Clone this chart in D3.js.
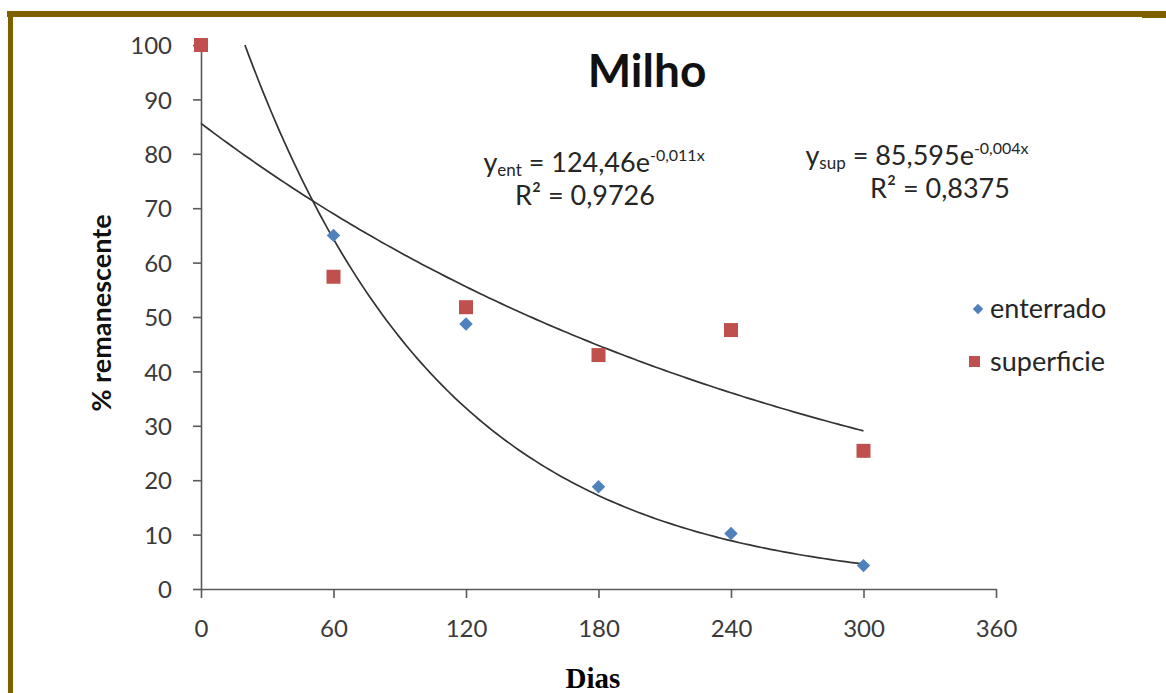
<!DOCTYPE html>
<html>
<head>
<meta charset="utf-8">
<script src="https://cdn.jsdelivr.net/npm/d3@7"></script>
<style>
  body { margin: 0; background: #fff; }
  svg { display: block; }
</style>
</head>
<body>
<div id="chart"></div>
<script>
// Data
const xTicks = [0, 60, 120, 180, 240, 300, 360];
const yTicks = [0, 10, 20, 30, 40, 50, 60, 70, 80, 90, 100];

const enterradoDias = [0, 60, 120, 180, 240, 300];
const enterradoVal = [100, 65, 48.7, 18.8, 10.2, 4.3];

const superficieDias = [0, 60, 120, 180, 240, 300];
const superficieVal = [100, 57.4, 51.8, 43, 47.6, 25.4];

// Trend line coefficients (exponential fits)
const entA = 124.46, entB = -0.011;
const supA = 85.595, supB = -0.0036;

const width = 1166;
const height = 693;
const font = "Lato, 'Open Sans', sans-serif";
const axisColor = "#595959";
const brown = "#7f6000";

const svg = d3.select("#chart").append("svg")
    .attr("width", width)
    .attr("height", height);

svg.append("rect").attr("width", width).attr("height", height).attr("fill", "#fff");

// brown frame (top and left)
svg.append("rect").attr("x", 7).attr("y", 11).attr("width", width - 7).attr("height", 6).attr("fill", brown);
svg.append("rect").attr("x", 1142).attr("y", 11).attr("width", 24).attr("height", 7).attr("fill", brown);
svg.append("rect").attr("x", 8).attr("y", 11).attr("width", 5).attr("height", height - 11).attr("fill", brown);

// scales
const x = d3.scaleLinear().domain([0, 360]).range([201, 996]);
const y = d3.scaleLinear().domain([0, 100]).range([589, 45]);

// y axis
const yAxis = svg.append("g")
    .attr("transform", `translate(${x(0)},0)`)
    .call(d3.axisLeft(y).tickValues(yTicks).tickSize(8).tickPadding(21).tickSizeOuter(0));

// x axis
const xAxis = svg.append("g")
    .attr("transform", `translate(0,${y(0)})`)
    .call(d3.axisBottom(x).tickValues(xTicks).tickSize(9).tickPadding(22).tickSizeOuter(0));

[xAxis, yAxis].forEach(a => {
    a.select(".domain").attr("stroke", axisColor).attr("stroke-width", 1.6);
    a.selectAll(".tick line").attr("stroke", axisColor).attr("stroke-width", 1.6);
    a.selectAll(".tick text")
        .attr("fill", "#3a3a3a")
        .style("font-family", font)
        .style("font-size", "24px");
});
yAxis.selectAll(".tick text").attr("dy", "0.36em");

// trend lines
const line = d3.line().x(d => x(d[0])).y(d => y(d[1]));

const entStart = Math.log(100 / entA) / entB;
const entPts = d3.range(entStart, 300.01, 2).map(t => [t, entA * Math.exp(entB * t)]);
entPts.push([300, entA * Math.exp(entB * 300)]);
const supPts = d3.range(0, 300.01, 2).map(t => [t, supA * Math.exp(supB * t)]);

svg.append("path").datum(entPts)
    .attr("d", line).attr("fill", "none").attr("stroke", "#333").attr("stroke-width", 1.7);
svg.append("path").datum(supPts)
    .attr("d", line).attr("fill", "none").attr("stroke", "#333").attr("stroke-width", 1.7);

// markers
const blue = "#4f81bd";
const red = "#c0504d";

svg.selectAll(".ent").data(enterradoDias.map((d, i) => [d, enterradoVal[i]]))
    .enter().append("path")
    .attr("class", "ent")
    .attr("d", d3.symbol().type(d3.symbolDiamond2).size(115))
    .attr("transform", d => `translate(${x(d[0])},${y(d[1])})`)
    .attr("fill", blue);

svg.selectAll(".sup").data(superficieDias.map((d, i) => [d, superficieVal[i]]))
    .enter().append("rect")
    .attr("class", "sup")
    .attr("x", d => x(d[0]) - 7)
    .attr("y", d => y(d[1]) - 7)
    .attr("width", 14).attr("height", 14)
    .attr("fill", red);

// title
svg.append("text")
    .attr("x", 647).attr("y", 87)
    .attr("text-anchor", "middle")
    .style("font-family", font).style("font-weight", "bold").style("font-size", "46px")
    .attr("fill", "#111")
    .text("Milho");

// equations
function equation(xPos, yPos, sub, coef, exp, r2x, r2) {
    const t = svg.append("text")
        .attr("x", xPos).attr("y", yPos)
        .attr("text-anchor", "middle")
        .style("font-family", font).style("font-size", "27px")
        .attr("fill", "#262626");
    t.append("tspan").text("y");
    t.append("tspan").attr("dy", 4).style("font-size", "17px").text(sub);
    t.append("tspan").attr("dy", -4).text(" = " + coef + "e");
    t.append("tspan").attr("dy", -11).style("font-size", "16px").text(exp);
    svg.append("text")
        .attr("x", r2x).attr("y", yPos + 33)
        .attr("text-anchor", "middle")
        .style("font-family", font).style("font-size", "27px")
        .attr("fill", "#262626")
        .text("R² = " + r2);
}
equation(594, 172, "ent", "124,46", "-0,011x", 585, "0,9726");
equation(917, 165, "sup", "85,595", "-0,004x", 940, "0,8375");

// legend
const legend = svg.append("g");
legend.append("path")
    .attr("d", d3.symbol().type(d3.symbolDiamond2).size(70))
    .attr("transform", "translate(978,309)")
    .attr("fill", blue);
legend.append("rect").attr("x", 969).attr("y", 356).attr("width", 11).attr("height", 11).attr("fill", red);
legend.append("text").attr("x", 990).attr("y", 309).attr("dy", "0.35em")
    .style("font-family", font).style("font-size", "27px").attr("fill", "#262626").text("enterrado");
legend.append("text").attr("x", 990).attr("y", 362).attr("dy", "0.35em")
    .style("font-family", font).style("font-size", "27px").attr("fill", "#262626").text("superficie");

// axis titles
svg.append("text")
    .attr("transform", "translate(111,313) rotate(-90)")
    .attr("text-anchor", "middle")
    .style("font-family", font).style("font-weight", "bold").style("font-size", "27px")
    .attr("fill", "#111")
    .text("% remanescente");

svg.append("text")
    .attr("x", 593).attr("y", 688)
    .attr("text-anchor", "middle")
    .style("font-family", "'Liberation Serif', 'Times New Roman', serif")
    .style("font-weight", "bold").style("font-size", "29px")
    .attr("fill", "#000")
    .text("Dias");
</script>
</body>
</html>
